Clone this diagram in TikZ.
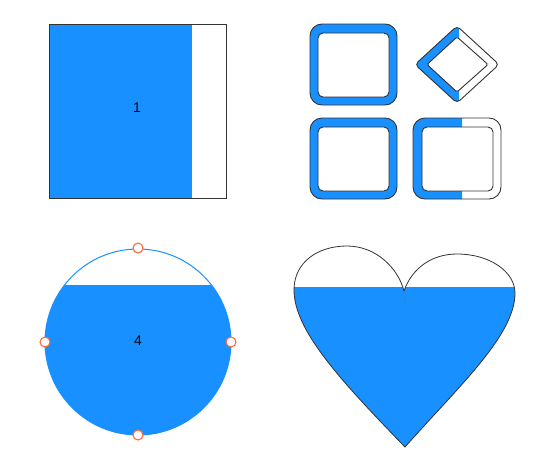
\documentclass[tikz,border=0pt]{standalone}
\usepackage{fontspec}
\setmainfont{Liberation Sans}
\definecolor{fillblue}{HTML}{1890FF}
\definecolor{edge}{HTML}{333333}
\definecolor{handle}{HTML}{FF6A3D}
\tikzset{
  outl/.style={draw=edge, line width=0.9pt},
  lbl/.style={font=\fontsize{14}{16}\selectfont, text=black, inner sep=0pt},
  hdl/.style={circle, draw=handle, fill=white, line width=1.1pt, minimum size=10pt, inner sep=0pt},
}
\begin{document}
\begin{tikzpicture}[x=1pt,y=-1pt]
\useasboundingbox (0,0) rectangle (551,463);
% --- square 1 ---
\fill[fillblue] (49,24) rectangle (192,198);
\draw[outl] (49,24) rectangle (226,198);
\node[lbl] (one) at (137,108) {1};
% --- ring top-left ---
\path[fill=fillblue, even odd rule]
  [rounded corners=12pt] (310,24) rectangle (397,105)
  [rounded corners=5pt] (318,33) rectangle (389,97);
\draw[outl, rounded corners=12pt] (310,24) rectangle (397,105);
\draw[outl, rounded corners=5pt] (318,33) rectangle (389,97);
% --- ring bottom-left ---
\path[fill=fillblue, even odd rule]
  [rounded corners=12pt] (310,118) rectangle (397,199)
  [rounded corners=5pt] (318,127) rectangle (389,191);
\draw[outl, rounded corners=12pt] (310,118) rectangle (397,199);
\draw[outl, rounded corners=5pt] (318,127) rectangle (389,191);
% --- ring bottom-right (half) ---
\begin{scope}
  \clip (400,110) rectangle (462,205);
  \path[fill=fillblue, even odd rule]
    [rounded corners=12pt] (413,118) rectangle (501,199)
    [rounded corners=5pt] (422,127) rectangle (493,191);
\end{scope}
\draw[outl, rounded corners=12pt] (413,118) rectangle (501,199);
\draw[outl, rounded corners=5pt] (422,127) rectangle (493,191);
% --- diamond ring (half) ---
\begin{scope}
  \clip (405,20) rectangle (459,110);
  \path[fill=fillblue, even odd rule]
    [rounded corners=4pt] (457,26) -- (499,64.5) -- (457,103) -- (415,64.5) -- cycle
    [rounded corners=1.5pt] (457,37) -- (488,64.5) -- (457,92) -- (427,64.5) -- cycle;
\end{scope}
\draw[outl, rounded corners=4pt] (457,26) -- (499,64.5) -- (457,103) -- (415,64.5) -- cycle;
\draw[outl, rounded corners=1.5pt] (457,37) -- (488,64.5) -- (457,92) -- (427,64.5) -- cycle;
% --- circle 4 ---
\begin{scope}
  \clip (138,342) circle (93);
  \fill[fillblue] (40,285) rectangle (240,440);
\end{scope}
\draw[fillblue, line width=1pt] (138,342) circle (93);
\node[lbl] (four) at (138,341) {4};
\node[hdl] (htop) at (138,248) {};
\node[hdl] (hbot) at (138,435) {};
\node[hdl] (hleft) at (45,342) {};
\node[hdl] (hright) at (231,342) {};
% --- heart ---
\def\heartpath{(405,447) .. controls (340,380) and (294,330) .. (294,290)
  .. controls (294,262) and (318,246) .. (347,246)
  .. controls (376,246) and (398,268) .. (404,291)
  .. controls (412,268) and (432,254) .. (457,254)
  .. controls (490,254) and (515,272) .. (515,293)
  .. controls (515,335) and (460,385) .. (405,447) -- cycle}
\begin{scope}
  \clip \heartpath;
  \fill[fillblue] (285,287) rectangle (520,450);
\end{scope}
\draw[outl, line width=0.8pt] \heartpath;
\end{tikzpicture}
\end{document}
